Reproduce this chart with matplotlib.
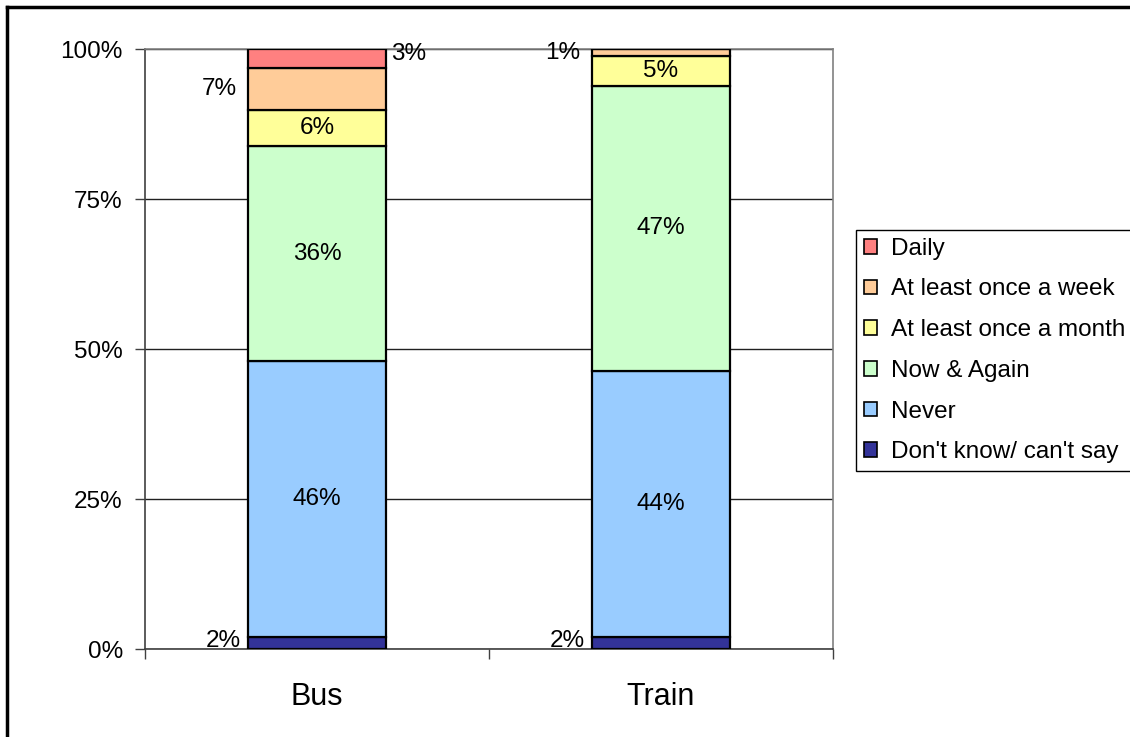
import matplotlib.pyplot as plt
from matplotlib.patches import Patch
from matplotlib.lines import Line2D
import numpy as np

plt.rcParams['font.family'] = ['Liberation Sans', 'DejaVu Sans']

modes = ['Bus', 'Train']
categories = ['Don\'t know/ can\'t say', 'Never', 'Now & Again',
              'At least once a month', 'At least once a week', 'Daily']
dont_know = [2.0, 2.0]
never = [46.0, 44.4]
now_again = [35.8, 47.4]
monthly = [6.1, 5.0]
weekly = [7.0, 1.2]
daily = [3.1, 0.0]

colors = ['#333399', '#99CCFF', '#CCFFCC', '#FFFF99', '#FFCC99', '#FF8080']

fig = plt.figure(figsize=(11.3, 7.37), dpi=100)
ax = fig.add_axes([145 / 1130, 1 - 649 / 737, 688 / 1130, 600 / 737])

x = np.arange(len(modes))
width = 0.404
series = [dont_know, never, now_again, monthly, weekly, daily]
bottom = np.zeros(len(modes))
segs = []
for vals, c in zip(series, colors):
    vals = np.array(vals)
    ax.bar(x, vals, width, bottom=bottom, color=c, edgecolor='black',
           linewidth=1.6, zorder=3)
    segs.append((bottom.copy(), vals))
    bottom += vals

fs = 17.5

def label(i, k, where):
    b, v = segs[k]
    y = b[i] + v[i] / 2
    txt = f'{v[i]:.0f}%'
    if where == 'in':
        ax.text(x[i], y, txt, ha='center', va='center', fontsize=fs, zorder=4)
    elif where == 'left':
        ax.annotate(txt, (x[i] - width / 2, y), xytext=(-8, 0),
                    textcoords='offset points', ha='right', va='center',
                    fontsize=fs, zorder=4)
    elif where == 'right':
        ax.annotate(txt, (x[i] + width / 2, y), xytext=(3, 3),
                    textcoords='offset points', ha='left', va='center',
                    fontsize=fs, zorder=4)
    elif where == 'base':
        ax.annotate(txt, (x[i] - width / 2, b[i]), xytext=(-5, -2),
                    textcoords='offset points', ha='right', va='bottom',
                    fontsize=fs, zorder=4)

# Bus
label(0, 0, 'base')
label(0, 1, 'in')
label(0, 2, 'in')
label(0, 3, 'in')
label(0, 4, 'left')
label(0, 5, 'right')
# Train
label(1, 0, 'base')
label(1, 1, 'in')
label(1, 2, 'in')
label(1, 3, 'in')
label(1, 4, 'left')

ax.set_xlim(-0.5, 1.5)
ax.set_ylim(0, 100)
ax.set_yticks([0, 25, 50, 75, 100])
ax.set_yticklabels(['0%', '25%', '50%', '75%', '100%'], fontsize=fs)
ax.set_xticks(x)
ax.set_xticklabels(modes, fontsize=22)
ax.set_xticks([-0.5, 0.5, 1.5], minor=True)
ax.tick_params(axis='x', which='major', length=0, pad=24)
ax.tick_params(axis='x', which='minor', length=7, width=1, color='#404040')
ax.tick_params(axis='y', length=7, width=1, color='#404040', pad=9)

ax.yaxis.grid(True, color='#202020', linewidth=1, zorder=0)
ax.set_axisbelow(True)
for s in ['left', 'bottom']:
    ax.spines[s].set_color('#404040')
    ax.spines[s].set_linewidth(1.2)
for s in ['right', 'top']:
    ax.spines[s].set_color('#808080')
    ax.spines[s].set_linewidth(1.2)

handles = [Patch(facecolor=c, edgecolor='black', linewidth=1.2)
           for c in colors[::-1]]
fig.legend(handles, categories[::-1], loc='upper left',
           bbox_to_anchor=(856 / 1130, 1 - 230 / 737), fontsize=fs,
           frameon=True, fancybox=False, edgecolor='black', framealpha=1,
           borderaxespad=0, borderpad=0.32, labelspacing=0.77,
           handlelength=0.55, handleheight=0.55, handletextpad=0.55)

# outer frame of the chart
fig.add_artist(Line2D([7 / 1130, 1], [1 - 7 / 737, 1 - 7 / 737],
                      transform=fig.transFigure, color='black', linewidth=2.5))
fig.add_artist(Line2D([7 / 1130, 7 / 1130], [0, 1 - 7 / 737],
                      transform=fig.transFigure, color='black', linewidth=2.5))

fig.savefig('out.png', dpi=100)
